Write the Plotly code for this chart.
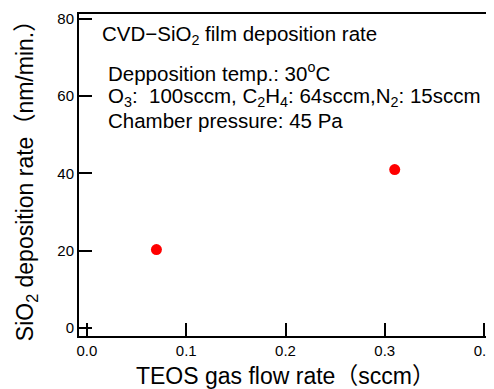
import plotly.graph_objects as go

teos_flow = [0.07, 0.31]
dep_rate = [20.3, 41.0]
x_ticks = [0.0, 0.1, 0.2, 0.3, 0.4]
x_tick_labels = ["0.0", "0.1", "0.2", "0.3", "0.4"]
y_ticks = [0, 20, 40, 60, 80]

FONT = "Liberation Sans, Arial, Noto Sans CJK JP, sans-serif"

fig = go.Figure()
fig.add_trace(go.Scatter(x=teos_flow, y=dep_rate, mode="markers",
                         marker=dict(color="#ff0000", size=11, line=dict(width=0)),
                         showlegend=False, cliponaxis=False))

fig.update_layout(
    width=494, height=389,
    margin=dict(l=71, r=10, t=6, b=61, autoexpand=False),
    plot_bgcolor="white", paper_bgcolor="white",
    font=dict(family=FONT, color="black"),
)
fig.update_xaxes(range=[-0.008, 0.408], tickvals=x_ticks, ticktext=x_tick_labels,
                 ticks="inside", ticklen=13, tickwidth=2, tickcolor="black",
                 showline=True, linecolor="black", linewidth=2, mirror=True,
                 showgrid=False, zeroline=False, tickfont=dict(size=15),
                 automargin=False,
                 title=dict(text="TEOS gas flow rate\uff08sccm\uff09", font=dict(size=23), standoff=10))
fig.update_yaxes(range=[-2.1, 81.3], tickvals=y_ticks,
                 ticks="inside", ticklen=13, tickwidth=2, tickcolor="black",
                 showline=True, linecolor="black", linewidth=2, mirror=True,
                 showgrid=False, zeroline=False, tickfont=dict(size=15),
                 automargin=False,
                 title=dict(text="SiO<sub>2</sub> deposition rate\uff08nm/min.\uff09", font=dict(size=23), standoff=17))

notes = [
    ("CVD\u2212SiO<sub>2</sub> film deposition rate", 100, 35),
    ("Depposition temp.: 30<sup>o</sup>C", 106, 72),
    ("O<sub>3</sub>:  100sccm, C<sub>2</sub>H<sub>4</sub>: 64sccm,N<sub>2</sub>: 15sccm", 106, 97),
    ("Chamber pressure: 45 Pa", 106, 120),
]
for text, px, py in notes:
    fig.add_annotation(text=text, xref="paper", yref="paper",
                       x=(px - 79) / 413, y=1 - (py - 14) / 322,
                       xanchor="left", yanchor="middle", showarrow=False,
                       font=dict(size=20.5, family=FONT))

fig.write_html("out.html")
